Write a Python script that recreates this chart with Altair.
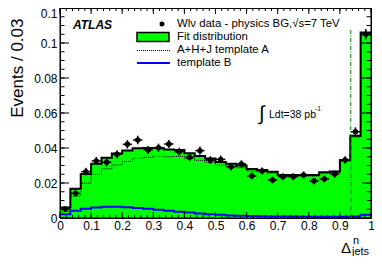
import altair as alt
import pandas as pd

FONT = "Liberation Sans"
W, H = 311, 210

# ---- data (30 bins from 0 to 1) ----
nbins = 30
fit_vals = [0.0060, 0.0167, 0.0252, 0.0310, 0.0345, 0.0368, 0.0386, 0.0398, 0.0400, 0.0400,
            0.0392, 0.0388, 0.0370, 0.0355, 0.0340, 0.0320, 0.0310, 0.0300, 0.0280, 0.0275,
            0.0265, 0.0246, 0.0246, 0.0246, 0.0246, 0.0262, 0.0266, 0.0331, 0.0470, 0.1060]
tmplA_vals = [0.0038, 0.0125, 0.0199, 0.0250, 0.0281, 0.0303, 0.0324, 0.0341, 0.0347, 0.0353,
              0.0350, 0.0352, 0.0339, 0.0329, 0.0318, 0.0302, 0.0295, 0.0287, 0.0269, 0.0265,
              0.0256, 0.0238, 0.0238, 0.0239, 0.0239, 0.0255, 0.0259, 0.0324, 0.0462, 0.1042]
tmplB_vals = [0.0022, 0.0042, 0.0053, 0.0060, 0.0064, 0.0065, 0.0062, 0.0057, 0.0053, 0.0047,
              0.0042, 0.0036, 0.0031, 0.0026, 0.0022, 0.0018, 0.0015, 0.0013, 0.0011, 0.0010,
              0.0009, 0.0008, 0.0008, 0.0007, 0.0007, 0.0007, 0.0007, 0.0007, 0.0008, 0.0018]
data_vals = [0.0051, 0.0141, 0.0265, 0.0326, 0.0318, 0.0364, 0.0421, 0.0446, 0.0389, 0.0402,
             0.0423, 0.0379, 0.0347, 0.0385, 0.0331, 0.0335, 0.0293, 0.0309, 0.0240, 0.0269,
             0.0217, 0.0236, 0.0236, 0.0246, 0.0211, 0.0223, 0.0251, 0.0331, 0.0493, 0.1050]
data_err = [0.0015, 0.0020, 0.0022, 0.0023, 0.0023, 0.0023, 0.0024, 0.0024, 0.0023, 0.0023,
            0.0023, 0.0023, 0.0022, 0.0023, 0.0022, 0.0022, 0.0021, 0.0021, 0.0020, 0.0020,
            0.0019, 0.0020, 0.0020, 0.0020, 0.0019, 0.0019, 0.0020, 0.0022, 0.0025, 0.0030]
cut_value = 0.935
cut_top = 0.108

x_major = [0, 0.1, 0.2, 0.3, 0.4, 0.5, 0.6, 0.7, 0.8, 0.9, 1.0]
x_minor = [round(i * 0.02, 3) for i in range(51)]
y_major = [0, 0.02, 0.04, 0.06, 0.08, 0.1, 0.12]
y_minor = [round(i * 0.005, 4) for i in range(25)]

lo = [i / nbins for i in range(nbins)]
hi = [(i + 1) / nbins for i in range(nbins)]
ctr = [(a + b) / 2 for a, b in zip(lo, hi)]

bins = pd.DataFrame({"lo": lo, "hi": hi, "ctr": ctr, "fit": fit_vals,
                     "data": data_vals,
                     "elo": [d - e for d, e in zip(data_vals, data_err)],
                     "ehi": [d + e for d, e in zip(data_vals, data_err)],
                     "hlo": [c - 0.015 for c in ctr], "hhi": [c + 0.015 for c in ctr]})


def step_df(vals):
    return pd.DataFrame({"x": lo + [1.0], "y": list(vals) + [vals[-1]]})


# ---- scales / axes ----
xs = alt.Scale(domain=[0, 1], nice=False, zero=False)
ys = alt.Scale(domain=[0, 0.12], nice=False, zero=True)
xaxis = alt.Axis(values=x_major, format="~g", ticks=False, domain=False, grid=False,
                 labelFont=FONT, labelFontSize=12, labelPadding=2, labelColor="black",
                 labelFlush=False, labelOverlap=False)
yaxis = alt.Axis(values=y_major, format="~g", ticks=False, domain=False, grid=False,
                 labelFont=FONT, labelFontSize=12, labelPadding=3, labelColor="black",
                 labelFlush=False, labelOverlap=False,
                 labelBaseline={"condition": {"test": "datum.value >= 0.119", "value": "top"},
                                "value": "middle"},
                 titleFont=FONT, titleFontSize=17, titleFontWeight="normal", titleColor="black",
                 titleAngle=270, titleX=-43, titleY=10, titleAlign="right", titleBaseline="middle")


def X(f):
    return alt.X(f, type="quantitative", scale=xs, axis=xaxis, title=None)


def Y(f):
    return alt.Y(f, type="quantitative", scale=ys, axis=yaxis, title="Events / 0.03")


one = pd.DataFrame({"a": [0]})
layers = []

# green filled histogram
layers.append(alt.Chart(step_df(fit_vals)).mark_area(
    interpolate="step-after", color="#00ff00", opacity=1).encode(
    x=X("x"), y=Y("y"), y2=alt.datum(0)))
# template A dotted
layers.append(alt.Chart(step_df(tmplA_vals)).mark_line(
    interpolate="step-after", color="black", strokeWidth=1, strokeDash=[1, 1]).encode(
    x=X("x"), y=Y("y")))
# fit outline
layers.append(alt.Chart(step_df(fit_vals)).mark_line(
    interpolate="step-after", color="black", strokeWidth=2).encode(x=X("x"), y=Y("y")))
# template B
layers.append(alt.Chart(step_df(tmplB_vals)).mark_line(
    interpolate="step-after", color="#0000ff", strokeWidth=2).encode(x=X("x"), y=Y("y")))
# cut line
layers.append(alt.Chart(pd.DataFrame({"x": [cut_value], "y": [0.0], "y2": [cut_top]})).mark_rule(
    color="#008800", strokeWidth=1, strokeDash=[4, 1.5, 1, 1.5]).encode(
    x=X("x"), y=Y("y"), y2="y2"))
# data error bars and points
layers.append(alt.Chart(bins).mark_rule(color="black", strokeWidth=1.5).encode(
    x=X("ctr"), y=Y("elo"), y2="ehi"))
layers.append(alt.Chart(bins).mark_rule(color="black", strokeWidth=1.5).encode(
    x=X("hlo"), x2="hhi", y=Y("data")))
layers.append(alt.Chart(bins).mark_circle(color="black", size=30, opacity=1).encode(
    x=X("ctr"), y=Y("data")))


# ROOT-style inward ticks
def xticks(vals, y1, y2):
    return alt.Chart(pd.DataFrame({"v": vals})).mark_rule(color="black", strokeWidth=1).encode(
        x=X("v"), y=alt.value(y1), y2=alt.value(y2))


def yticks(vals, x1, x2):
    return alt.Chart(pd.DataFrame({"v": vals})).mark_rule(color="black", strokeWidth=1).encode(
        y=Y("v"), x=alt.value(x1), x2=alt.value(x2))


layers += [xticks(x_minor, H, H - 3), xticks(x_major, H, H - 6),
           xticks(x_minor, 0, 3), xticks(x_major, 0, 6),
           yticks(y_minor, 0, 4.5), yticks(y_major, 0, 9),
           yticks(y_minor, W, W - 4.5), yticks(y_major, W, W - 9)]

# frame
layers.append(alt.Chart(one).mark_rect(fill=None, fillOpacity=0, stroke="black", strokeWidth=1).encode(
    x=alt.value(0), x2=alt.value(W), y=alt.value(0), y2=alt.value(H)))


def txt(t, x, y, size=11, align="left", baseline="middle", **kw):
    return alt.Chart(one).mark_text(text=t, font=FONT, fontSize=size, align=align,
                                    baseline=baseline, color="black", **kw).encode(
        x=alt.value(x), y=alt.value(y))


# legend
layers.append(alt.Chart(one).mark_circle(color="black", size=25, opacity=1).encode(
    x=alt.value(102), y=alt.value(16)))
layers.append(alt.Chart(one).mark_rect(fill="#00ff00", stroke="black", strokeWidth=1.5).encode(
    x=alt.value(77), x2=alt.value(109), y=alt.value(24.5), y2=alt.value(33.5)))
layers.append(alt.Chart(one).mark_rule(color="black", strokeWidth=1, strokeDash=[1, 1]).encode(
    x=alt.value(77), x2=alt.value(110), y=alt.value(42.5)))
layers.append(alt.Chart(one).mark_rule(color="#0000ff", strokeWidth=2).encode(
    x=alt.value(77), x2=alt.value(110), y=alt.value(55)))
layers.append(txt("Wlν data - physics BG,√s=7 TeV", 117, 16, size=11.4))
layers.append(txt("Fit distribution", 117, 29, size=11.4))
layers.append(txt("A+H+J template A", 117, 42, size=11.4))
layers.append(txt("template B", 117, 55, size=11.4))

# ATLAS label
layers.append(txt("ATLAS", 13, 17, size=12, fontWeight="bold", fontStyle="italic"))

# luminosity
layers.append(txt("∫", 199, 112, size=20, baseline="alphabetic"))
layers.append(txt("Ldt=38 pb", 209, 110, size=10.5, baseline="alphabetic"))
layers.append(txt("-1", 255, 103, size=6.5, baseline="alphabetic"))

# x-axis title  Δ^n_jets
layers.append(txt("Δ", 281, 245, size=15, baseline="alphabetic"))
layers.append(txt("n", 293, 236, size=11, baseline="alphabetic"))
layers.append(txt("jets", 292, 247, size=11, baseline="alphabetic"))

chart = alt.layer(*layers).properties(
    width=W, height=H,
    autosize=alt.AutoSizeParams(type="none"),
    padding={"left": 52, "top": 0, "right": 3, "bottom": 38},
).configure_view(stroke="black", strokeWidth=1)

chart.save("out.html", embed_options={"renderer": "svg", "actions": False})
